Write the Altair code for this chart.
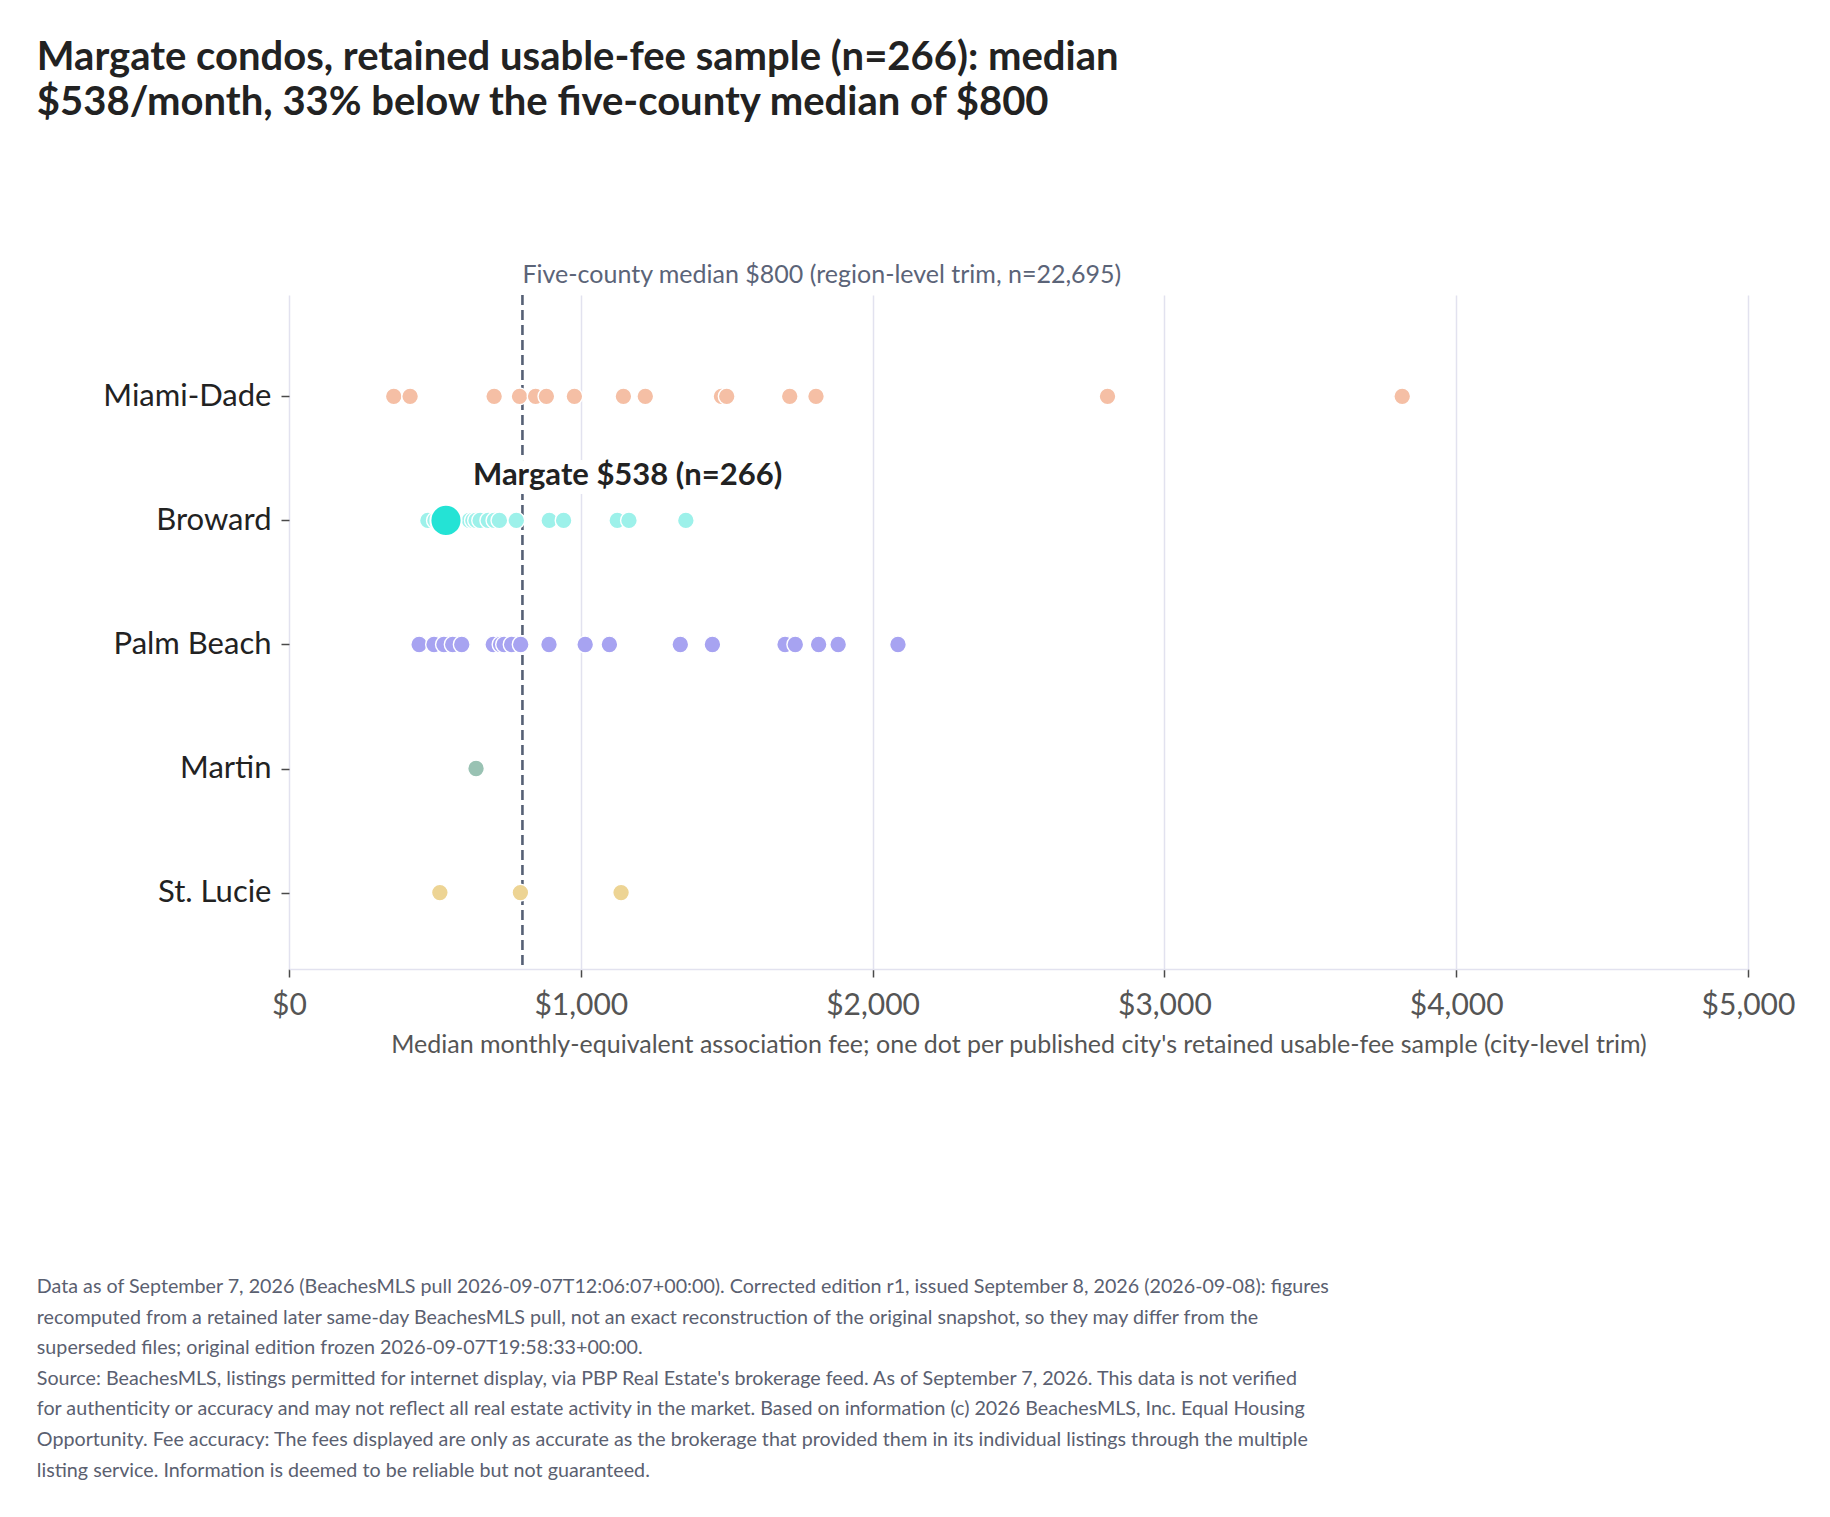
import json
import altair as alt
import pandas as pd

counties = ["Miami-Dade", "Broward", "Palm Beach", "Martin", "St. Lucie"]
county_colors = ["#f5bfa5", "#9df1ea", "#a7a3f1", "#99c2b3", "#edd494"]

miami_dade = [359, 415, 703, 790, 845, 882, 978, 1146, 1221, 1482, 1500, 1716, 1806, 2805, 3815]
broward = [476, 500, 618, 630, 641, 655, 683, 704, 721, 779, 892, 941, 1125, 1165, 1360]
palm_beach = [446, 497, 531, 561, 592, 700, 725, 737, 763, 794, 891, 1015, 1098, 1341, 1451,
              1700, 1735, 1815, 1882, 2087]
martin = [641]
st_lucie = [517, 793, 1138]

margate_fee = 538
margate_county = "Broward"
margate_label = "Margate $538 (n=266)"
margate_color = "#24e3d5"

region_median = 800
median_label = "Five-county median $800 (region-level trim, n=22,695)"

x_ticks = [0, 1000, 2000, 3000, 4000, 5000]

title_lines = [
    "Margate condos, retained usable-fee sample (n=266): median",
    "$538/month, 33% below the five-county median of $800",
]
x_title = ("Median monthly-equivalent association fee; one dot per published city's "
           "retained usable-fee sample (city-level trim)")
footer_lines = [
    "Data as of September 7, 2026 (BeachesMLS pull 2026-09-07T12:06:07+00:00). Corrected edition r1, issued September 8, 2026 (2026-09-08): figures",
    "recomputed from a retained later same-day BeachesMLS pull, not an exact reconstruction of the original snapshot, so they may differ from the",
    "superseded files; original edition frozen 2026-09-07T19:58:33+00:00.",
    "Source: BeachesMLS, listings permitted for internet display, via PBP Real Estate's brokerage feed. As of September 7, 2026. This data is not verified",
    "for authenticity or accuracy and may not reflect all real estate activity in the market. Based on information (c) 2026 BeachesMLS, Inc. Equal Housing",
    "Opportunity. Fee accuracy: The fees displayed are only as accurate as the brokerage that provided them in its individual listings through the multiple",
    "listing service. Information is deemed to be reliable but not guaranteed.",
]

series = [miami_dade, broward, palm_beach, martin, st_lucie]
rows = []
for i, (c, vals) in enumerate(zip(counties, series)):
    for v in vals:
        rows.append({"county": c, "row": i, "fee": v})
df = pd.DataFrame(rows)

df_margate = pd.DataFrame({"county": [margate_county], "row": [counties.index(margate_county)],
                           "fee": [margate_fee], "label": [margate_label]})
df_median = pd.DataFrame({"fee": [region_median], "label": [median_label]})

FONT = "Lato"
label_expr = json.dumps(counties) + "[datum.value]"

x_enc = alt.X(
    "fee:Q",
    scale=alt.Scale(domain=[0, 5000], nice=False, zero=True),
    axis=alt.Axis(
        values=x_ticks, format="$,.0f", title=x_title, labelFlush=False,
        grid=True, gridColor="#e2e2ef", gridWidth=1.5,
        domainColor="#e2e2ef", domainWidth=1.5,
        tickColor="#4a4a4a", tickSize=8, tickWidth=1.5,
        labelFontSize=30, labelColor="#555555", labelPadding=13, labelFont=FONT,
        titleFontSize=25, titleColor="#555555", titleFontWeight="normal", titlePadding=12,
        titleFont=FONT,
    ),
)
y_enc = alt.Y(
    "row:Q",
    scale=alt.Scale(domain=[-0.817, 4.616], reverse=True, nice=False, zero=False),
    axis=alt.Axis(
        values=[0, 1, 2, 3, 4], labelExpr=label_expr, title=None,
        grid=False, domain=False,
        tickColor="#4a4a4a", tickSize=8, tickWidth=1.5,
        labelFontSize=31, labelColor="#222222", labelPadding=10, labelFont=FONT,
    ),
)

rule = alt.Chart(df_median).mark_rule(
    color="#566075", strokeDash=[10, 5], strokeWidth=2.6
).encode(x=alt.X("fee:Q"))

median_text = alt.Chart(df_median).mark_text(
    align="left", baseline="alphabetic", dy=-12, fontSize=25, color="#5b6478", font=FONT
).encode(x=alt.X("fee:Q"), y=alt.value(0), text="label:N")

points = alt.Chart(df).mark_circle(
    size=280, opacity=1, stroke="white", strokeWidth=1.4
).encode(
    x=x_enc, y=y_enc,
    color=alt.Color("county:N", scale=alt.Scale(domain=counties, range=county_colors), legend=None),
)

margate_pt = alt.Chart(df_margate).mark_circle(
    size=970, opacity=1, stroke="white", strokeWidth=2, color=margate_color
).encode(x=alt.X("fee:Q"), y=alt.Y("row:Q"))

margate_halo = alt.Chart(df_margate).mark_text(
    align="left", baseline="alphabetic", dx=27, dy=-35, fontSize=31, fontWeight="bold",
    color="white", stroke="white", strokeWidth=18, strokeJoin="round", font=FONT
).encode(x=alt.X("fee:Q"), y=alt.Y("row:Q"), text="label:N")

margate_text = alt.Chart(df_margate).mark_text(
    align="left", baseline="alphabetic", dx=27, dy=-35, fontSize=31, fontWeight="bold",
    color="#222222", font=FONT
).encode(x=alt.X("fee:Q"), y=alt.Y("row:Q"), text="label:N")

inner = alt.layer(
    rule, points, margate_pt, margate_halo, margate_text, median_text
).properties(
    width=1459, height=674,
    title=alt.TitleParams(
        text=title_lines, anchor="start", frame="bounds", dx=-66, offset=140,
        fontSize=40, fontWeight="bold", color="#222222", lineHeight=45, font=FONT,
    ),
)

chart = alt.vconcat(inner).properties(
    title=alt.TitleParams(
        text=footer_lines, orient="bottom", anchor="start", frame="bounds", offset=220,
        fontSize=19.7, fontWeight="normal", color="#5a6070", lineHeight=30.6, font=FONT,
    ),
    padding={"left": 28, "top": 30, "right": 20, "bottom": 20},
).configure(font=FONT).configure_view(strokeWidth=0)

chart.save("out.html", embed_options={"renderer": "svg", "actions": False})
